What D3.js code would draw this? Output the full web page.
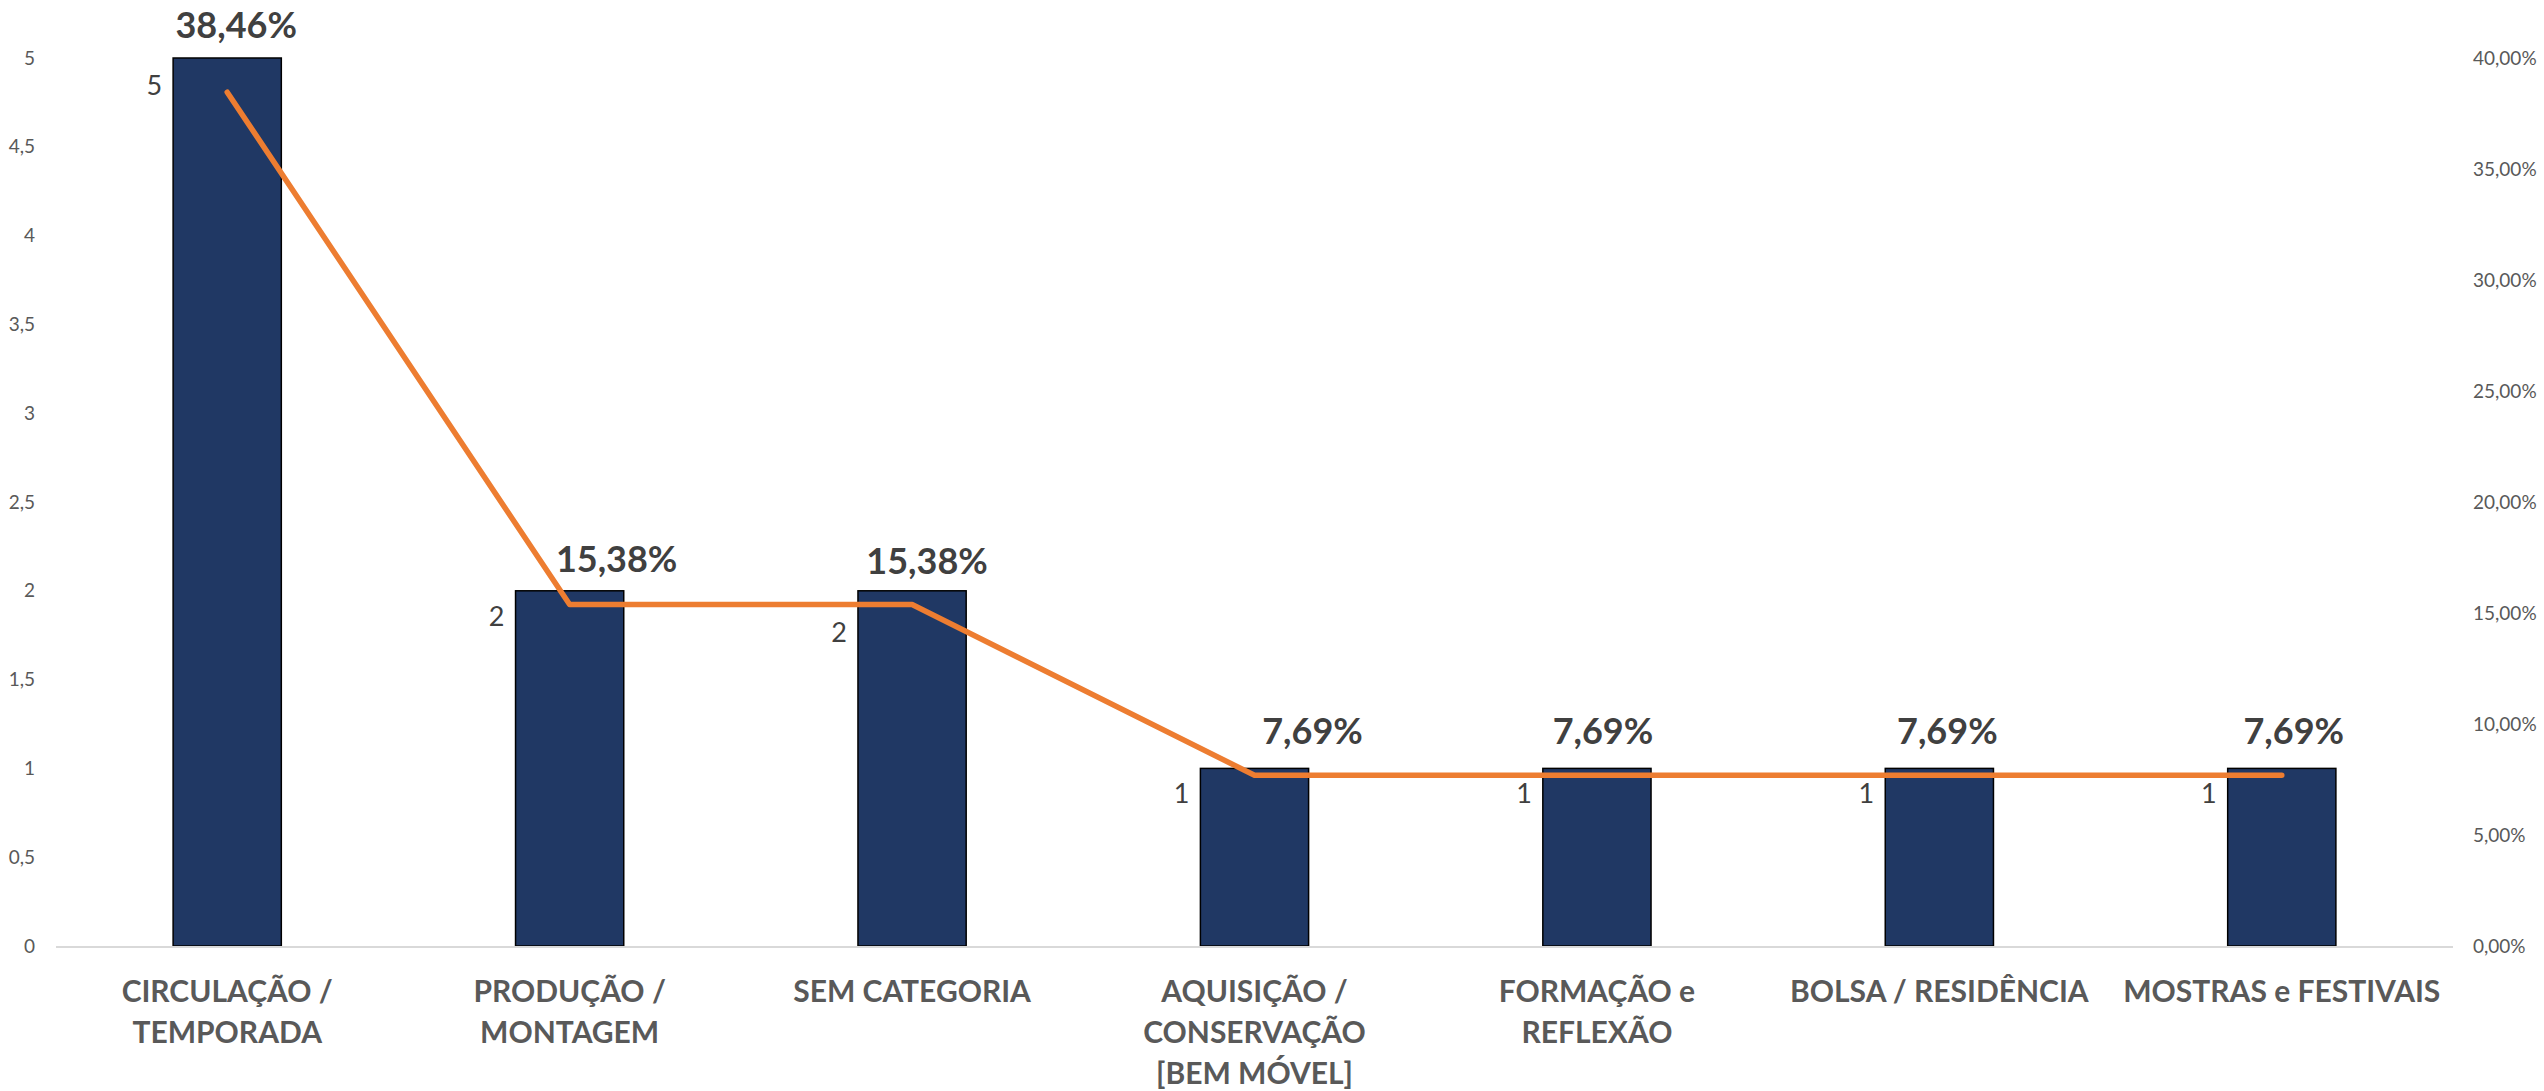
<!DOCTYPE html>
<html>
<head>
<meta charset="utf-8">
<script src="https://cdn.jsdelivr.net/npm/d3@7"></script>
<style>
  html, body { margin: 0; padding: 0; background: #fff; }
  svg { display: block; font-family: Lato, "Open Sans", sans-serif; }
</style>
</head>
<body>
<div id="chart"></div>
<script>
// données
const categories = [
  "CIRCULAÇÃO /\nTEMPORADA",
  "PRODUÇÃO /\nMONTAGEM",
  "SEM CATEGORIA",
  "AQUISIÇÃO /\nCONSERVAÇÃO\n[BEM MÓVEL]",
  "FORMAÇÃO e\nREFLEXÃO",
  "BOLSA / RESIDÊNCIA",
  "MOSTRAS e FESTIVAIS"
];
const counts = [5, 2, 2, 1, 1, 1, 1];
const shares = [0.3846, 0.1538, 0.1538, 0.0769, 0.0769, 0.0769, 0.0769];
const leftTicks = [0, 0.5, 1, 1.5, 2, 2.5, 3, 3.5, 4, 4.5, 5];
const rightTicks = [0, 0.05, 0.10, 0.15, 0.20, 0.25, 0.30, 0.35, 0.40];

const width = 2544, height = 1091;
const margin = { top: 58, right: 91, bottom: 145, left: 56 };

const svg = d3.select("#chart").append("svg")
  .attr("width", width)
  .attr("height", height);

const x = d3.scaleBand()
  .domain(d3.range(categories.length))
  .range([margin.left, width - margin.right])
  .paddingInner(0.684)
  .paddingOuter(0.342);

const yCount = d3.scaleLinear().domain([0, 5]).range([height - margin.bottom, margin.top]);
const yShare = d3.scaleLinear().domain([0, 0.40]).range([height - margin.bottom, margin.top]);

const fmtComma = d => String(d).replace(".", ",");
const fmtPct = d => (d * 100).toFixed(2).replace(".", ",") + "%";

// axe gauche
const yAxisL = d3.axisLeft(yCount).tickValues(leftTicks).tickFormat(fmtComma).tickSize(0).tickPadding(0);
svg.append("g")
  .attr("transform", "translate(35,0)")
  .call(yAxisL)
  .call(g => g.select(".domain").remove())
  .call(g => g.selectAll("text").attr("font-size", 19).attr("fill", "#595959").attr("font-family", "Lato, sans-serif"));

// axe droit
const yAxisR = d3.axisRight(yShare).tickValues(rightTicks).tickFormat(fmtPct).tickSize(0).tickPadding(0);
svg.append("g")
  .attr("transform", "translate(2473,0)")
  .call(yAxisR)
  .call(g => g.select(".domain").remove())
  .call(g => g.selectAll("text").attr("font-size", 19).attr("fill", "#595959").attr("font-family", "Lato, sans-serif"));

// barres
svg.append("g").selectAll("rect")
  .data(counts)
  .join("rect")
  .attr("x", (d, i) => x(i))
  .attr("y", d => yCount(d))
  .attr("width", x.bandwidth())
  .attr("height", d => yCount(0) - yCount(d))
  .attr("fill", "#203864")
  .attr("stroke", "#000")
  .attr("stroke-width", 1.5);

// ligne de base
svg.append("line")
  .attr("x1", margin.left).attr("x2", width - margin.right)
  .attr("y1", yCount(0) + 1).attr("y2", yCount(0) + 1)
  .attr("stroke", "#d9d9d9")
  .attr("stroke-width", 2);

// étiquettes des barres (à gauche)
const countDy = [37, 35, 51, 35, 35, 35, 35];
svg.append("g").selectAll("text")
  .data(counts)
  .join("text")
  .attr("x", (d, i) => x(i) - 11)
  .attr("y", (d, i) => yCount(d) + countDy[i])
  .attr("text-anchor", "end")
  .attr("font-size", 27)
  .attr("fill", "#404040")
  .text(d => d);

// ligne des pourcentages
const line = d3.line()
  .x((d, i) => x(i) + x.bandwidth() / 2)
  .y(d => yShare(d));

svg.append("path")
  .datum(shares)
  .attr("fill", "none")
  .attr("stroke", "#ED7D31")
  .attr("stroke-width", 5.5)
  .attr("stroke-linejoin", "round")
  .attr("stroke-linecap", "round")
  .attr("d", line);

// étiquettes des pourcentages
const pctDx = [9, 47, 15, 58, 6, 8, 12];
const pctDy = [-54, -33, -31, -31, -31, -31, -31];
svg.append("g").selectAll("text")
  .data(shares)
  .join("text")
  .attr("x", (d, i) => x(i) + x.bandwidth() / 2 + pctDx[i])
  .attr("y", (d, i) => yShare(d) + pctDy[i])
  .attr("text-anchor", "middle")
  .attr("font-size", 36)
  .attr("font-weight", "bold")
  .attr("fill", "#404040")
  .text(fmtPct);

// catégories
const xAxis = svg.append("g");
categories.forEach((c, i) => {
  const t = xAxis.append("text")
    .attr("x", x(i) + x.bandwidth() / 2)
    .attr("y", 1002)
    .attr("text-anchor", "middle")
    .attr("font-size", 30)
    .attr("font-weight", "bold")
    .attr("fill", "#595959");
  c.split("\n").forEach((l, k) => {
    t.append("tspan")
      .attr("x", x(i) + x.bandwidth() / 2)
      .attr("dy", k === 0 ? 0 : 41)
      .text(l);
  });
});
</script>
</body>
</html>
